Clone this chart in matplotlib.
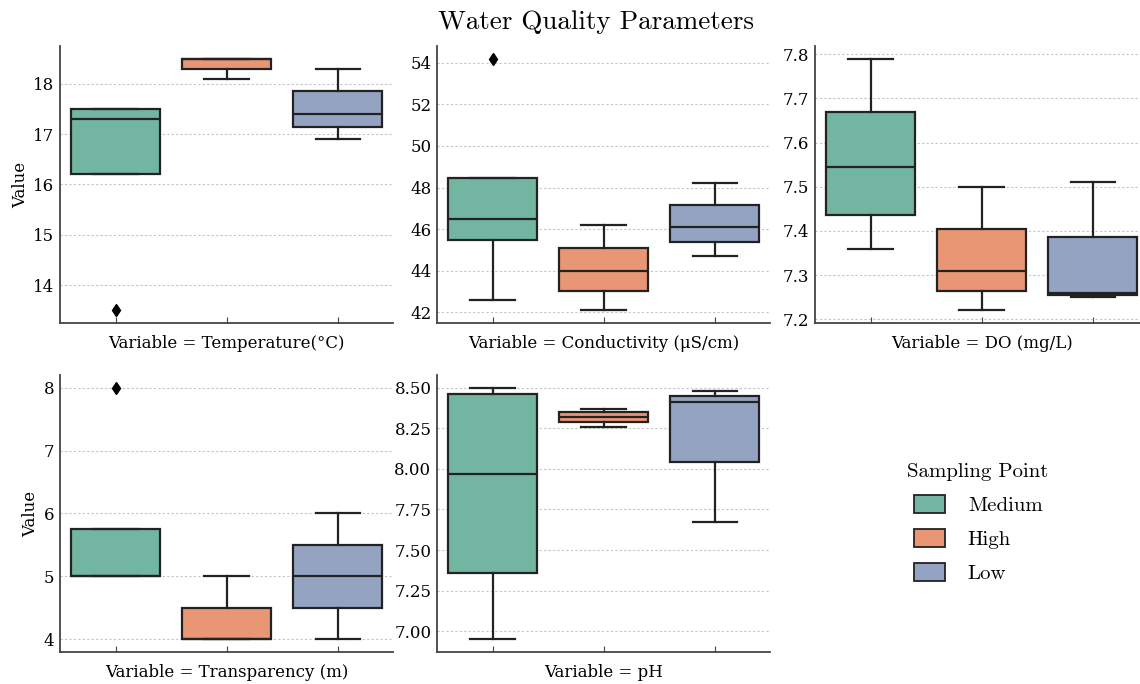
import matplotlib.pyplot as plt
import matplotlib.patches as mpatches
from matplotlib.ticker import MultipleLocator
import seaborn as sns

# facets and hue levels
variables = ['Temperature(°C)', 'Conductivity (μS/cm)', 'DO (mg/L)',
             'Transparency (m)', 'pH']
points = ['Medium', 'High', 'Low']

# box stats: (whislo, q1, med, q3, whishi) for Medium, High, Low
temp_stats = [(16.2, 16.2, 17.3, 17.5, 17.5),
              (18.1, 18.3, 18.5, 18.5, 18.5),
              (16.9, 17.15, 17.4, 17.85, 18.3)]
cond_stats = [(42.6, 45.5, 46.5, 48.45, 48.45),
              (42.1, 43.05, 44.0, 45.1, 46.2),
              (44.7, 45.4, 46.1, 47.15, 48.2)]
do_stats = [(7.36, 7.435, 7.545, 7.67, 7.79),
            (7.22, 7.265, 7.31, 7.405, 7.50),
            (7.25, 7.255, 7.26, 7.385, 7.51)]
trans_stats = [(5.0, 5.0, 5.0, 5.75, 5.75),
               (4.0, 4.0, 4.0, 4.5, 5.0),
               (4.0, 4.5, 5.0, 5.5, 6.0)]
ph_stats = [(6.95, 7.36, 7.97, 8.46, 8.50),
            (8.26, 8.29, 8.32, 8.35, 8.37),
            (7.67, 8.04, 8.41, 8.45, 8.48)]

# outliers
temp_fliers = [[13.5], [], []]
cond_fliers = [[54.2], [], []]
do_fliers = [[], [], []]
trans_fliers = [[8.0], [], []]
ph_fliers = [[], [], []]

# y tick step per facet
tick_steps = [1, 2, 0.1, 1, 0.25]

all_stats = [temp_stats, cond_stats, do_stats, trans_stats, ph_stats]
all_fliers = [temp_fliers, cond_fliers, do_fliers, trans_fliers, ph_fliers]

colors = sns.color_palette('Set2', 3, desat=0.75)

plt.rcParams['font.family'] = 'DejaVu Serif'

fig = plt.figure(figsize=(11.4, 6.84), dpi=100)

# axes boxes in figure fractions (left, bottom, width, height)
lefts = [0.0526, 0.3833, 0.7149]
bottoms = [0.5278, 0.0468]
w, h = 0.2925, 0.405

for i, var in enumerate(variables):
    row, col = divmod(i, 3)
    ax = fig.add_axes([lefts[col], bottoms[row], w, h])

    stats = []
    for (lo, q1, med, q3, hi), fl in zip(all_stats[i], all_fliers[i]):
        stats.append(dict(whislo=lo, q1=q1, med=med, q3=q3, whishi=hi, fliers=fl))

    bp = ax.bxp(stats, positions=[0, 1, 2], widths=0.8, patch_artist=True,
                boxprops=dict(edgecolor='#222222', linewidth=1.6),
                whiskerprops=dict(color='#222222', linewidth=1.6),
                capprops=dict(color='#222222', linewidth=1.6),
                medianprops=dict(color='#222222', linewidth=1.6),
                flierprops=dict(marker='d', markerfacecolor='black',
                                markeredgecolor='black', markersize=6))
    for patch, c in zip(bp['boxes'], colors):
        patch.set_facecolor(c)

    ax.set_xlim(-0.5, 2.5)
    ax.margins(y=0.05)
    ax.yaxis.set_major_locator(MultipleLocator(tick_steps[i]))
    ax.set_xticks([0, 1, 2])
    ax.set_xticklabels([])
    ax.tick_params(axis='x', direction='in', length=4, color='#444444')
    ax.tick_params(axis='y', length=0, labelsize=12, pad=4)

    ax.yaxis.grid(True, linestyle=(0, (2, 2)), color='#c4c4c4', linewidth=0.8)
    ax.set_axisbelow(True)

    for s in ['top', 'right']:
        ax.spines[s].set_visible(False)
    for s in ['left', 'bottom']:
        ax.spines[s].set_color('#444444')
        ax.spines[s].set_linewidth(1.3)

    ax.set_xlabel('Variable = ' + var, fontsize=12, labelpad=5)
    if col == 0:
        ax.set_ylabel('Value', fontsize=12, labelpad=3)

fig.suptitle('Water Quality Parameters', fontsize=19.5, family='cmr10',
             x=0.523, y=0.985, va='top')

handles = [mpatches.Patch(facecolor=c, edgecolor='#222222', linewidth=1.3)
           for c in colors]
fig.legend(handles, points, title='Sampling Point', loc='center',
           bbox_to_anchor=(0.858, 0.235), frameon=False,
           prop=dict(family='cmr10', size=15),
           title_fontproperties=dict(family='cmr10', size=15),
           handlelength=1.5, handleheight=1.0, handletextpad=1.1,
           labelspacing=0.65)

fig.savefig('out.png', dpi=100)
